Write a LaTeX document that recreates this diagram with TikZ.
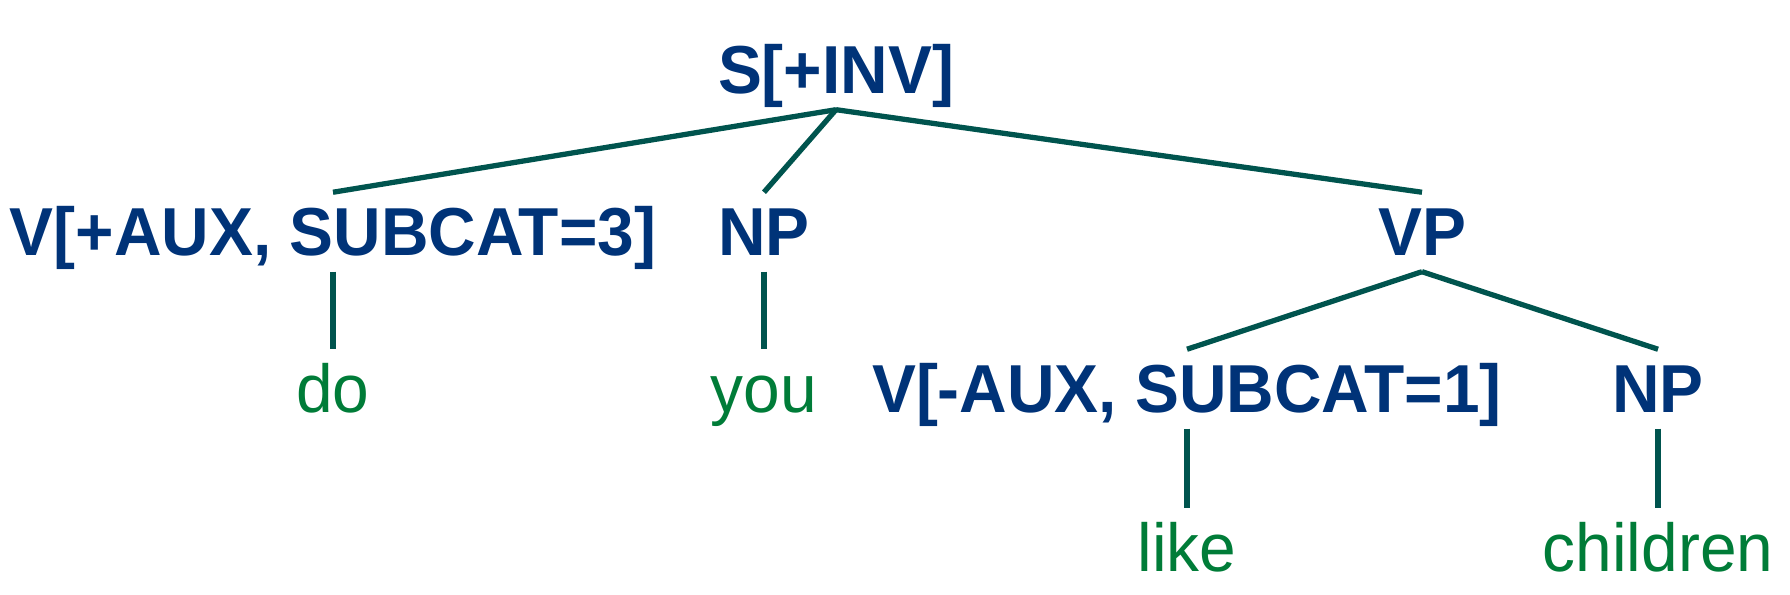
\documentclass[tikz,border=0pt]{standalone}
\usepackage{fontspec}
\setmainfont{Liberation Sans}[FakeStretch=0.97]
\usetikzlibrary{positioning}
\definecolor{catblue}{RGB}{0, 51, 120}
\definecolor{wordgreen}{RGB}{0, 124, 56}
\definecolor{edgeteal}{RGB}{0, 84, 78}

\begin{document}
\begin{tikzpicture}[x=0.01cm, y=-0.01cm,
        cat/.style={anchor=base, text=catblue, font=\fontsize{19.3pt}{22pt}\selectfont\bfseries, text height=0.48cm, text depth=0cm, inner xsep=0pt, inner ysep=0.15cm},
        word/.style={anchor=base, text=wordgreen, font=\fontsize{19.3pt}{22pt}\selectfont, text height=0.48cm, text depth=0cm, inner xsep=0pt, inner ysep=0.15cm},
        edge/.style={draw=edgeteal, line width=1.5pt}
      ]
        \useasboundingbox (0,0) rectangle (1790,595);
        \node[cat] (s) at (836,94) {S[+INV]};
        \node[cat] (v1) at (333,256) {V[+AUX, SUBCAT=3]};
        \node[cat] (np1) at (764,256) {NP};
        \node[cat] (vp) at (1422,256) {VP};
        \node[word] (do) at (333,413) {do};
        \node[word] (you) at (764,413) {you};
        \node[cat] (v2) at (1187,413) {V[-AUX, SUBCAT=1]};
        \node[cat] (np2) at (1658,413) {NP};
        \node[word] (like) at (1187,572) {like};
        \node[word] (children) at (1658,572) {children};
        \draw[edge] (s.south) -- (v1.north);
        \draw[edge] (s.south) -- (np1.north);
        \draw[edge] (s.south) -- (vp.north);
        \draw[edge] (v1.south) -- (do.north);
        \draw[edge] (np1.south) -- (you.north);
        \draw[edge] (vp.south) -- (v2.north);
        \draw[edge] (vp.south) -- (np2.north);
        \draw[edge] (v2.south) -- (like.north);
        \draw[edge] (np2.south) -- (children.north);
      \end{tikzpicture}
\end{document}
